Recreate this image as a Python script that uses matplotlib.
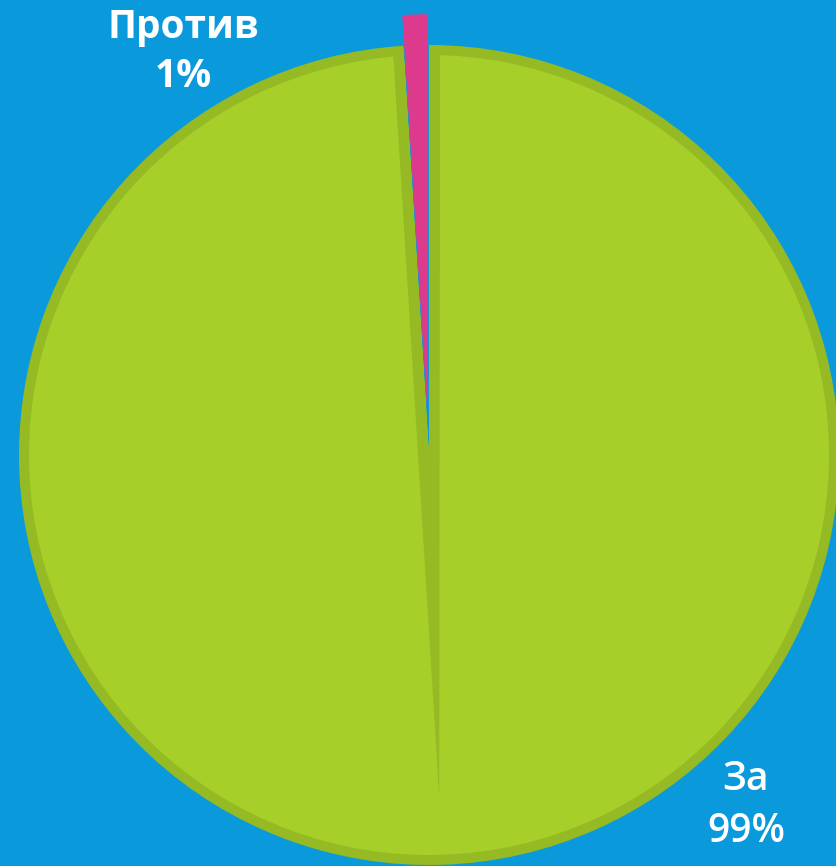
import matplotlib
matplotlib.use("Agg")
import matplotlib.pyplot as plt
from matplotlib.patches import Polygon, Wedge

# ---- data ----
categories = ["Против", "За"]
values = [1, 99]
pct_labels = ["1%", "99%"]

# ---- style ----
BG = "#0A9ADC"
GREEN = "#A6CF2A"
GREEN_DARK = "#95BA24"
PINK = "#DC3B8D"
colors = [PINK, GREEN_DARK]

W, H, DPI = 836, 866, 100
fig = plt.figure(figsize=(W / DPI, H / DPI), dpi=DPI, facecolor=BG)
ax = fig.add_axes([0, 0, 1, 1])
ax.set_facecolor(BG)

scale = 410.0  # pixels per unit radius
wedges, _ = ax.pie(values, colors=colors, startangle=90, counterclock=True,
                   explode=[0.075, 0], radius=1.0,
                   wedgeprops=dict(linewidth=0))

g = wedges[1]
g.set_zorder(1)
rim = 10.0 / scale
inner = Wedge(g.center, g.r - rim, g.theta1, g.theta2,
              facecolor=GREEN, edgecolor="none", zorder=1.2)
ax.add_patch(inner)

# shading band along the split line (decorative)
band = Polygon([(-0.088, 0.99), (0.027, 0.99), (0.025, -0.834)],
               closed=True, facecolor=GREEN_DARK, edgecolor="none", zorder=1.5)
ax.add_patch(band)
band.set_clip_path(g)

wedges[0].set_zorder(2)

# view so the pie sits like in the reference
cx, cy = 429.0, 455.0
ax.set_xlim(-cx / scale, (W - cx) / scale)
ax.set_ylim(-(H - cy) / scale, cy / scale)
ax.set_aspect("equal")
ax.axis("off")

# labels
ax.text(-0.600, 0.983, f"{categories[0]}\n{pct_labels[0]}", ha="center", va="center",
        color="white", fontsize=28, fontweight="bold", family="Open Sans",
        linespacing=1.35, zorder=5)
ax.text(0.773, -0.855, f"{categories[1]}\n{pct_labels[1]}", ha="center", va="center",
        color="white", fontsize=28, fontweight="semibold", family="Open Sans",
        linespacing=1.4, zorder=5)

fig.savefig("out.png", dpi=DPI, facecolor=BG)
